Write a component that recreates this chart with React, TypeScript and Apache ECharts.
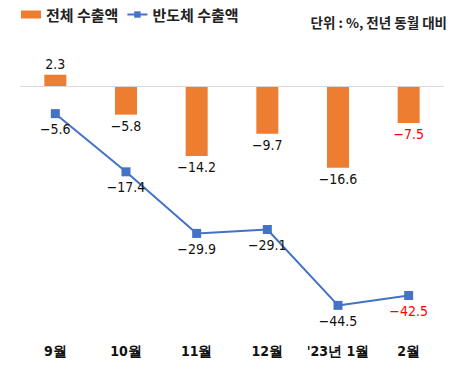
import React, { useEffect, useRef } from "react";
import * as echarts from "echarts";

const categories = ["9월", "10월", "11월", "12월", "'23년 1월", "2월"];
const totalExports = [2.3, -5.8, -14.2, -9.7, -16.6, -7.5];
const semiExports = [-5.6, -17.4, -29.9, -29.1, -44.5, -42.5];
const highlightIndex = 5;

const NUM_FONT = '"DejaVu Sans Condensed", "Liberation Sans Narrow", "Liberation Sans", sans-serif';
const KR_FONT = '"Noto Sans CJK KR", sans-serif';

export default function App() {
  const ref = useRef<HTMLDivElement>(null);
  useEffect(() => {
    if (!ref.current) return;
    const chart = echarts.init(ref.current, undefined, { renderer: "svg" });
    const labelStyle = (i: number) => ({
      color: i === highlightIndex ? "#FF0000" : "#111111",
    });
    chart.setOption({
      animation: false,
      backgroundColor: "#ffffff",
      legend: {
        left: 16,
        top: 2,
        itemGap: 8,
        itemWidth: 20,
        itemHeight: 8,
        textStyle: { fontFamily: KR_FONT, fontSize: 15, fontWeight: "bold", color: "#222" },
        data: [
          { name: "전체 수출액", icon: "rect" },
          { name: "반도체 수출액" },
        ],
      },
      graphic: [
        {
          type: "text",
          right: 3,
          top: 15,
          style: {
            text: "단위 : %, 전년 동월 대비",
            font: `bold 13.5px ${KR_FONT}`,
            fill: "#222",
          },
        },
      ],
      grid: { left: 20, right: 6, top: 61.4, bottom: 56.5 },
      xAxis: {
        type: "category",
        data: categories,
        axisLine: { show: false, onZero: false },
        axisTick: { show: false },
        axisLabel: {
          interval: 0,
          margin: 11,
          fontFamily: NUM_FONT,
          fontSize: 14,
          fontWeight: "bold",
          color: "#111",
        },
      },
      yAxis: {
        type: "value",
        min: -50,
        max: 5,
        show: false,
        splitLine: { show: false },
      },
      series: [
        {
          name: "전체 수출액",
          type: "bar",
          data: totalExports.map((v, i) => ({
            value: v,
            label: {
              position: v >= 0 ? "top" : "bottom",
              ...labelStyle(i),
            },
          })),
          barWidth: 22,
          itemStyle: { color: "#ED7D31" },
          label: {
            show: true,
            distance: 4,
            fontFamily: NUM_FONT,
            fontSize: 14,
            formatter: (p: any) => String(p.value).replace("-", "−"),
          },
          markLine: {
            silent: true,
            symbol: "none",
            label: { show: false },
            lineStyle: { color: "#D9D9D9", width: 1, type: "solid" },
            data: [{ yAxis: 0 }],
          },
        },
        {
          name: "반도체 수출액",
          type: "line",
          data: semiExports.map((v, i) => ({ value: v, label: labelStyle(i) })),
          symbol: "rect",
          symbolSize: 9,
          itemStyle: { color: "#4472C4" },
          lineStyle: { color: "#4472C4", width: 2 },
          label: {
            show: true,
            position: "bottom",
            distance: 4,
            fontFamily: NUM_FONT,
            fontSize: 14,
            formatter: (p: any) => String(p.value).replace("-", "−"),
          },
        },
      ],
    });
    return () => chart.dispose();
  }, []);
  return (
    <div
      ref={ref}
      style={{ position: "fixed", left: 0, top: 0, width: 450, height: 389 }}
    />
  );
}
